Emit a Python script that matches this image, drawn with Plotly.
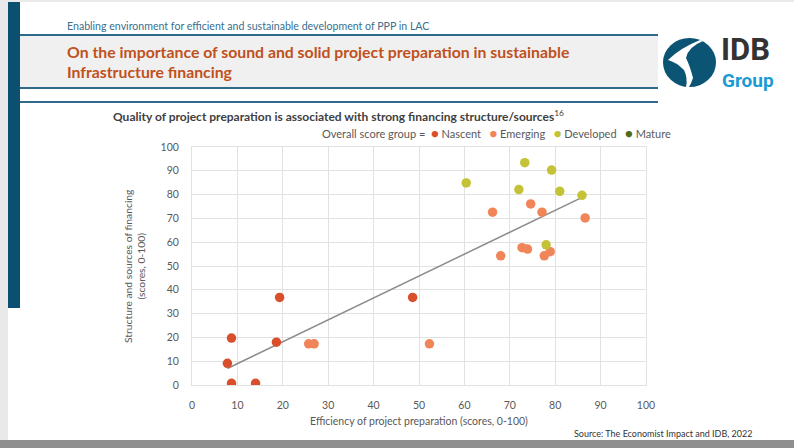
import numpy as np
import plotly.graph_objects as go

# ---------------- data ----------------
groups = ["Nascent", "Emerging", "Developed", "Mature"]
group_colors = ["#d94f2b", "#f08559", "#c4c236", "#4e6b1e"]

nascent_x = [7.8, 8.7, 8.7, 14.0, 18.6, 19.3, 48.6]
nascent_y = [9.1, 19.7, 0.7, 0.7, 18.0, 36.8, 36.8]

emerging_x = [25.7, 26.9, 52.3, 66.2, 74.6, 77.1, 86.6, 72.7, 73.9, 68.0, 77.6, 78.9]
emerging_y = [17.3, 17.3, 17.3, 72.6, 76.1, 72.6, 70.2, 57.7, 57.1, 54.3, 54.3, 56.0]

developed_x = [60.4, 73.3, 79.2, 72.0, 81.0, 85.9, 78.0]
developed_y = [84.9, 93.4, 90.3, 82.1, 81.4, 79.7, 58.9]

mature_x = []
mature_y = []

x_ticks = list(range(0, 101, 10))
y_ticks = list(range(0, 101, 10))

header_text = "Enabling environment for efficient and sustainable development of PPP in LAC"
title_lines = ["On the importance of sound and solid project preparation in sustainable",
               "Infrastructure financing"]
chart_title = "Quality of project preparation is associated with strong financing structure/sources"
chart_title_note = "16"
x_title = "Efficiency of project preparation (scores, 0-100)"
y_title = "Structure and sources of financing<br>(scores, 0-100)"
source_text = "Source: The Economist Impact and IDB, 2022"
legend_prefix = "Overall score group ="

# ---------------- geometry helpers ----------------
W, H = 794, 448
L, R, T, B = 192, 646, 147, 385   # plot area in pixels


def fx(px):
    return (px - L) / (R - L)


def fy(py):
    return 1 - (py - T) / (B - T)


fig = go.Figure()

series = [(nascent_x, nascent_y), (emerging_x, emerging_y),
          (developed_x, developed_y), (mature_x, mature_y)]

# trend line (least squares over all points)
all_x = np.array(nascent_x + emerging_x + developed_x + mature_x)
all_y = np.array(nascent_y + emerging_y + developed_y + mature_y)
slope, intercept = np.polyfit(all_x, all_y, 1)
tx = np.array([all_x.min(), all_x.max()])
fig.add_trace(go.Scatter(x=tx, y=slope * tx + intercept, mode="lines",
                         line=dict(color="#8c8c8c", width=1.5),
                         hoverinfo="skip", showlegend=False))

for name, color, (xs, ys) in zip(groups, group_colors, series):
    fig.add_trace(go.Scatter(x=xs, y=ys, mode="markers", name=name,
                             marker=dict(color=color, size=9.5, line=dict(width=0)),
                             showlegend=False))

shapes = []
# page background pieces
shapes.append(dict(type="rect", xref="paper", yref="paper",
                   x0=fx(8), x1=fx(794), y0=fy(440), y1=fy(2),
                   fillcolor="white", line=dict(width=0), layer="below"))
shapes.append(dict(type="rect", xref="paper", yref="paper",
                   x0=fx(0), x1=fx(794), y0=fy(448), y1=fy(440),
                   fillcolor="#8f8f8f", line=dict(width=0), layer="below"))
# left dark bar
shapes.append(dict(type="rect", xref="paper", yref="paper",
                   x0=fx(8), x1=fx(20), y0=fy(308), y1=fy(2),
                   fillcolor="#0b4f71", line=dict(width=0), layer="below"))
# grey title box
shapes.append(dict(type="rect", xref="paper", yref="paper",
                   x0=fx(20), x1=fx(658), y0=fy(88), y1=fy(35),
                   fillcolor="#f0f0f0", line=dict(width=0), layer="below"))
for yy in (35, 88, 102):
    shapes.append(dict(type="line", xref="paper", yref="paper",
                       x0=fx(20), x1=fx(658), y0=fy(yy), y1=fy(yy),
                       line=dict(color="#2f6a8a", width=2), layer="below"))
# logo globe
shapes.append(dict(type="circle", xref="paper", yref="paper",
                   x0=fx(663), x1=fx(716), y0=fy(87), y1=fy(38),
                   fillcolor="#0b5473", line=dict(width=0)))
shapes.append(dict(type="path", xref="paper", yref="paper",
                   path=(f"M {fx(668)},{fy(60)} Q {fx(680)},{fy(48)} {fx(700)},{fy(40)} "
                         f"L {fx(703)},{fy(41)} Q {fx(688)},{fy(47)} {fx(686)},{fy(58)} "
                         f"Q {fx(690)},{fy(66)} {fx(693)},{fy(78)} Q {fx(691)},{fy(84)} {fx(689)},{fy(87)} "
                         f"L {fx(686)},{fy(87)} Q {fx(688)},{fy(78)} {fx(684)},{fy(70)} "
                         f"Q {fx(676)},{fy(62)} {fx(668)},{fy(60)} Z"),
                   fillcolor="white", line=dict(width=0)))

annotations = []


def ann(text, px, py, size, color, xanchor="left", yanchor="middle", family="Lato", **kw):
    annotations.append(dict(text=text, x=fx(px), y=fy(py), xref="paper", yref="paper",
                            showarrow=False, xanchor=xanchor, yanchor=yanchor,
                            font=dict(size=size, color=color, family=family), **kw))


ann(header_text, 65, 26, 10.6, "#3a6f8e")
ann("<b>" + title_lines[0] + "</b>", 65, 51, 15.8, "#c0501c")
ann("<b>" + title_lines[1] + "</b>", 65, 71, 15.8, "#c0501c")
ann("<b>IDB</b>", 719, 49, 31, "#333333", family="Roboto")
ann("<b>Group</b>", 720, 80, 19, "#1c9ad6", family="Roboto")

ann("<b>" + chart_title + "</b><sup>" + chart_title_note + "</sup>", 338, 116, 12, "#404040",
    xanchor="center")

legend_html = legend_prefix + "  " + "   ".join(
    f"<span style='color:{c};font-size:13px'>●</span> {g}" for g, c in zip(groups, group_colors))
ann(legend_html, 673, 133, 11, "#595959", xanchor="right")

ann(y_title, 134, 266, 10.3, "#595959", xanchor="center", textangle=-90)
ann(source_text, 755, 433, 9, "#333333", xanchor="right")

fig.update_layout(
    width=W, height=H,
    margin=dict(l=L, r=W - R, t=T, b=H - B, pad=0),
    paper_bgcolor="#e9e9e9", plot_bgcolor="white",
    shapes=shapes, annotations=annotations,
    font=dict(family="Lato", color="#595959"),
    showlegend=False,
    xaxis=dict(range=[0, 100], tickvals=x_ticks, showgrid=True, gridcolor="#e2e2e2",
               zeroline=False, showline=True, mirror=True, linecolor="#e2e2e2",
               ticks="", tickfont=dict(size=10.5, color="#595959"), ticklabelstandoff=10,
               title=dict(text=x_title, font=dict(size=10.5, color="#595959"), standoff=8),
               fixedrange=True),
    yaxis=dict(range=[0, 100], tickvals=y_ticks, showgrid=True, gridcolor="#e2e2e2",
               zeroline=False, showline=True, mirror=True, linecolor="#e2e2e2",
               ticks="", tickfont=dict(size=10.5, color="#595959"), ticklabelstandoff=10,
               fixedrange=True),
)

fig.write_html("out.html", config={"displayModeBar": False},
               post_script="document.body.style.margin='0';document.body.style.overflow='hidden';")
